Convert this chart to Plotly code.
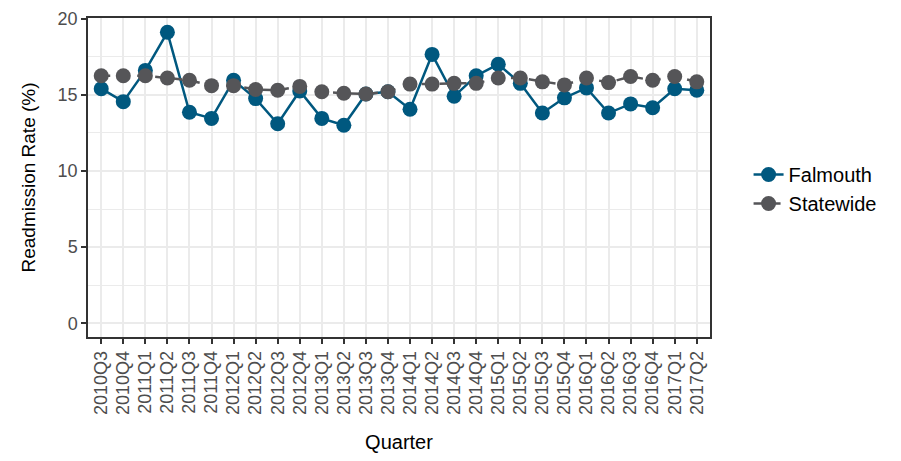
import plotly.graph_objects as go

# Quarters on the x axis
quarters = ['2010Q3', '2010Q4', '2011Q1', '2011Q2', '2011Q3', '2011Q4',
            '2012Q1', '2012Q2', '2012Q3', '2012Q4', '2013Q1', '2013Q2',
            '2013Q3', '2013Q4', '2014Q1', '2014Q2', '2014Q3', '2014Q4',
            '2015Q1', '2015Q2', '2015Q3', '2015Q4', '2016Q1', '2016Q2',
            '2016Q3', '2016Q4', '2017Q1', '2017Q2']

# Readmission rates (%)
falmouth = [15.4, 14.55, 16.6, 19.1, 13.85, 13.45, 15.95, 14.75, 13.1, 15.25,
            13.45, 13.0, 15.05, 15.2, 14.05, 17.65, 14.9, 16.25, 17.0, 15.75,
            13.8, 14.8, 15.45, 13.8, 14.4, 14.15, 15.4, 15.3]
statewide = [16.25, 16.25, 16.25, 16.1, 15.95, 15.6, 15.6, 15.35, 15.3, 15.55,
             15.2, 15.1, 15.05, 15.2, 15.7, 15.7, 15.75, 15.75, 16.1, 16.1,
             15.85, 15.65, 16.1, 15.8, 16.2, 15.95, 16.2, 15.85]

blue = '#00587f'
grey = '#555558'

fig = go.Figure()

fig.add_trace(go.Scatter(
    x=quarters, y=falmouth, name='Falmouth', mode='lines+markers',
    line=dict(color=blue, width=2.5),
    marker=dict(color=blue, size=15),
))
fig.add_trace(go.Scatter(
    x=quarters, y=statewide, name='Statewide', mode='lines+markers',
    line=dict(color=grey, width=2.5, dash='dash'),
    marker=dict(color=grey, size=15),
))

axis_style = dict(
    showline=True, linecolor='#333333', linewidth=1.5, mirror=True,
    ticks='outside', ticklen=5, tickwidth=1.5, tickcolor='#333333',
    gridcolor='#ebebeb', gridwidth=1.5, zeroline=False,
    tickfont=dict(size=18, color='#4d4d4d'),
    automargin=False, ticklabeloverflow='allow',
)

fig.update_xaxes(
    **axis_style,
    range=[-0.6, len(quarters) - 0.4],
    tickangle=-90,
    title=dict(text='Quarter', font=dict(size=20, color='black'), standoff=22),
)
fig.update_yaxes(
    **axis_style,
    range=[-0.9, 20.04],
    tickvals=[0, 5, 10, 15, 20],
    minor=dict(showgrid=True, tickvals=[2.5, 7.5, 12.5, 17.5],
               gridcolor='#ebebeb', gridwidth=1),
    title=dict(text='Readmission Rate (%)', font=dict(size=19, color='black'), standoff=17),
)

# the page body adds an 8px offset, so the figure is drawn slightly smaller
fig.update_layout(
    width=885, height=445,
    margin=dict(l=80, r=183, t=10, b=116),
    plot_bgcolor='white', paper_bgcolor='white',
    font=dict(family='Liberation Sans, Arial, sans-serif'),
    legend=dict(x=1.062, y=0.464, xanchor='left', yanchor='middle',
                font=dict(size=20, color='black'), bgcolor='rgba(0,0,0,0)'),
)

fig.write_html("out.html")
